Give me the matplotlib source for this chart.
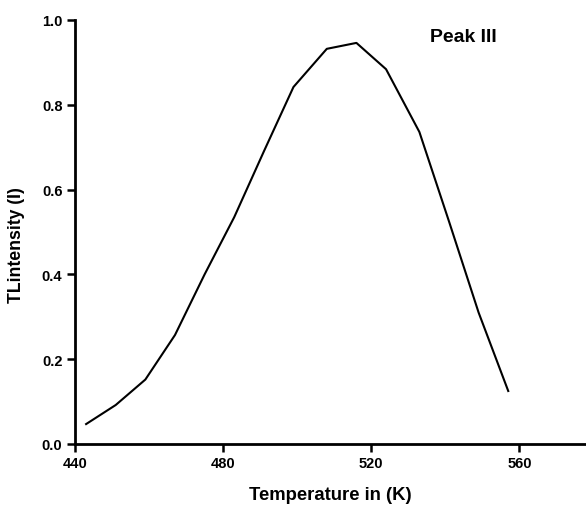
import matplotlib
matplotlib.use("Agg")
import matplotlib.pyplot as plt

# Thermoluminescence glow curve, peak III
temperature = [443, 451, 459, 467, 475, 483, 491, 499, 508, 516, 524, 533, 541, 549, 557]
intensity = [0.047, 0.092, 0.152, 0.257, 0.400, 0.535, 0.690, 0.842, 0.932, 0.946, 0.884, 0.736, 0.525, 0.310, 0.125]

x_ticks = [440, 480, 520, 560]
y_ticks = [0.0, 0.2, 0.4, 0.6, 0.8, 1.0]
y_tick_labels = ["0.0", "0.2", "0.4", "0.6", "0.8", "1.0"]

plt.rcParams["font.family"] = ["Liberation Sans", "DejaVu Sans"]

fig = plt.figure(figsize=(5.86, 5.06), dpi=100)
ax = fig.add_axes([75 / 586, 1 - 445 / 506, 1 - 75 / 586, (445 - 21) / 506])

ax.plot(temperature, intensity, color="black", linewidth=1.5)

ax.set_xlim(440, 578)
ax.set_ylim(0.0, 1.0)
ax.set_xticks(x_ticks)
ax.set_yticks(y_ticks)
ax.set_yticklabels(y_tick_labels)

for side in ("top", "right"):
    ax.spines[side].set_visible(False)
for side in ("left", "bottom"):
    ax.spines[side].set_linewidth(2.0)

ax.tick_params(direction="out", length=6, width=1.8, labelsize=10.5, pad=3)
for lbl in ax.get_xticklabels() + ax.get_yticklabels():
    lbl.set_fontweight("bold")

ax.set_xlabel("Temperature in (K)", fontsize=13.3, fontweight="bold", labelpad=11)
ax.set_ylabel("TLintensity (I)", fontsize=12.7, fontweight="bold")
ax.yaxis.set_label_coords(-0.097, 0.472)

ax.text(536, 0.962, "Peak III", fontsize=14, fontweight="bold", ha="left", va="center")

fig.savefig("out.png", dpi=100)
